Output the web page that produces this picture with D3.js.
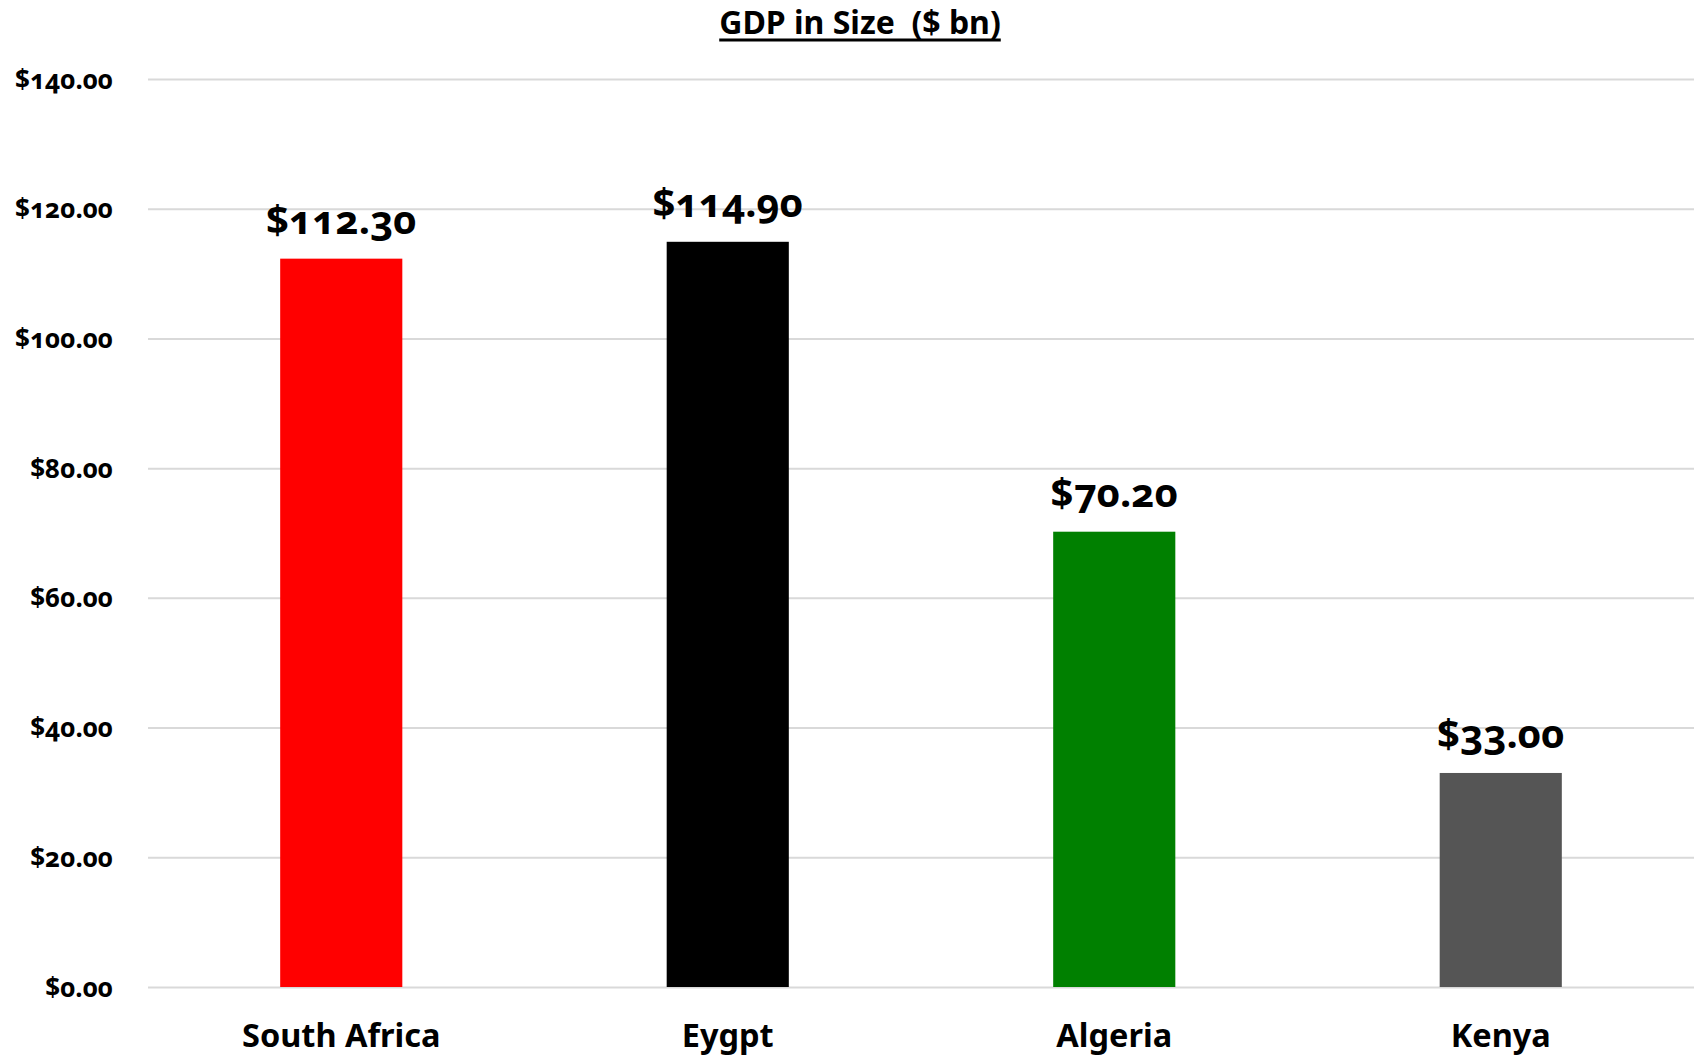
<!DOCTYPE html>
<html>
<head>
<meta charset="utf-8">
<script src="https://cdn.jsdelivr.net/npm/d3@7"></script>
<style>
  html, body { margin: 0; padding: 0; background: #fff; }
  svg text { font-family: "Noto Sans", "Open Sans", sans-serif; font-variant-numeric: oldstyle-nums; }
</style>
</head>
<body>
<svg id="chart" width="1706" height="1058"></svg>
<script>
// GDP by country, $ billions
const countries = ["South Africa", "Eygpt", "Algeria", "Kenya"];
const gdp = [112.3, 114.9, 70.2, 33.0];
const barColors = ["#ff0000", "#000000", "#008000", "#555555"];
const yTicks = [0, 20, 40, 60, 80, 100, 120, 140];
const chartTitle = "GDP in Size  ($ bn)";

const plotLeft = 148, plotRight = 1694, plotTop = 79, plotBottom = 987;

const svg = d3.select("#chart");

const x = d3.scaleBand()
  .domain(countries)
  .range([plotLeft, plotRight])
  .paddingInner(0.684)
  .paddingOuter(0.342);

const y = d3.scaleLinear().domain([0, 140]).range([plotBottom, plotTop]);

const money = d => "$" + d3.format(".2f")(d);

// horizontal gridlines and tick labels
const yAxis = d3.axisLeft(y)
  .tickValues(yTicks)
  .tickSize(-(plotRight - plotLeft))
  .tickPadding(35)
  .tickFormat(money);

const gy = svg.append("g")
  .attr("transform", `translate(${plotLeft},0)`)
  .call(yAxis);
gy.select(".domain").remove();
gy.selectAll(".tick line")
  .attr("stroke", "#d9d9d9")
  .attr("stroke-width", 2);
gy.selectAll(".tick text")
  .attr("fill", "#000")
  .attr("font-size", 26)
  .attr("font-weight", 700)
  .attr("dy", "0.35em");

// bars
svg.append("g").selectAll("rect")
  .data(gdp)
  .join("rect")
  .attr("x", (d, i) => x(countries[i]))
  .attr("width", x.bandwidth())
  .attr("y", d => y(d))
  .attr("height", d => y(0) - y(d))
  .attr("fill", (d, i) => barColors[i]);

// value labels above bars
svg.append("g").selectAll("text")
  .data(gdp)
  .join("text")
  .attr("x", (d, i) => x(countries[i]) + x.bandwidth() / 2)
  .attr("y", d => y(d) - 25)
  .attr("text-anchor", "middle")
  .attr("font-size", 40)
  .attr("font-weight", 700)
  .attr("fill", "#000")
  .text(money);

// category labels
const xAxis = d3.axisBottom(x).tickSize(0).tickPadding(0);
const gx = svg.append("g")
  .attr("transform", `translate(0,${plotBottom})`)
  .call(xAxis);
gx.select(".domain").remove();
gx.selectAll(".tick text")
  .attr("fill", "#000")
  .attr("font-size", 32.5)
  .attr("font-weight", 700)
  .attr("y", 60)
  .attr("dy", 0);

// underlined title
const t = svg.append("text")
  .attr("x", (plotLeft + plotRight) / 2 - 61)
  .attr("y", 34)
  .attr("text-anchor", "middle")
  .attr("font-size", 32)
  .attr("font-weight", 700)
  .attr("fill", "#000")
  .style("white-space", "pre")
  .text(chartTitle);
const bb = t.node().getBBox();
svg.append("line")
  .attr("x1", bb.x).attr("x2", bb.x + bb.width)
  .attr("y1", 40).attr("y2", 40)
  .attr("stroke", "#000")
  .attr("stroke-width", 3);
</script>
</body>
</html>
